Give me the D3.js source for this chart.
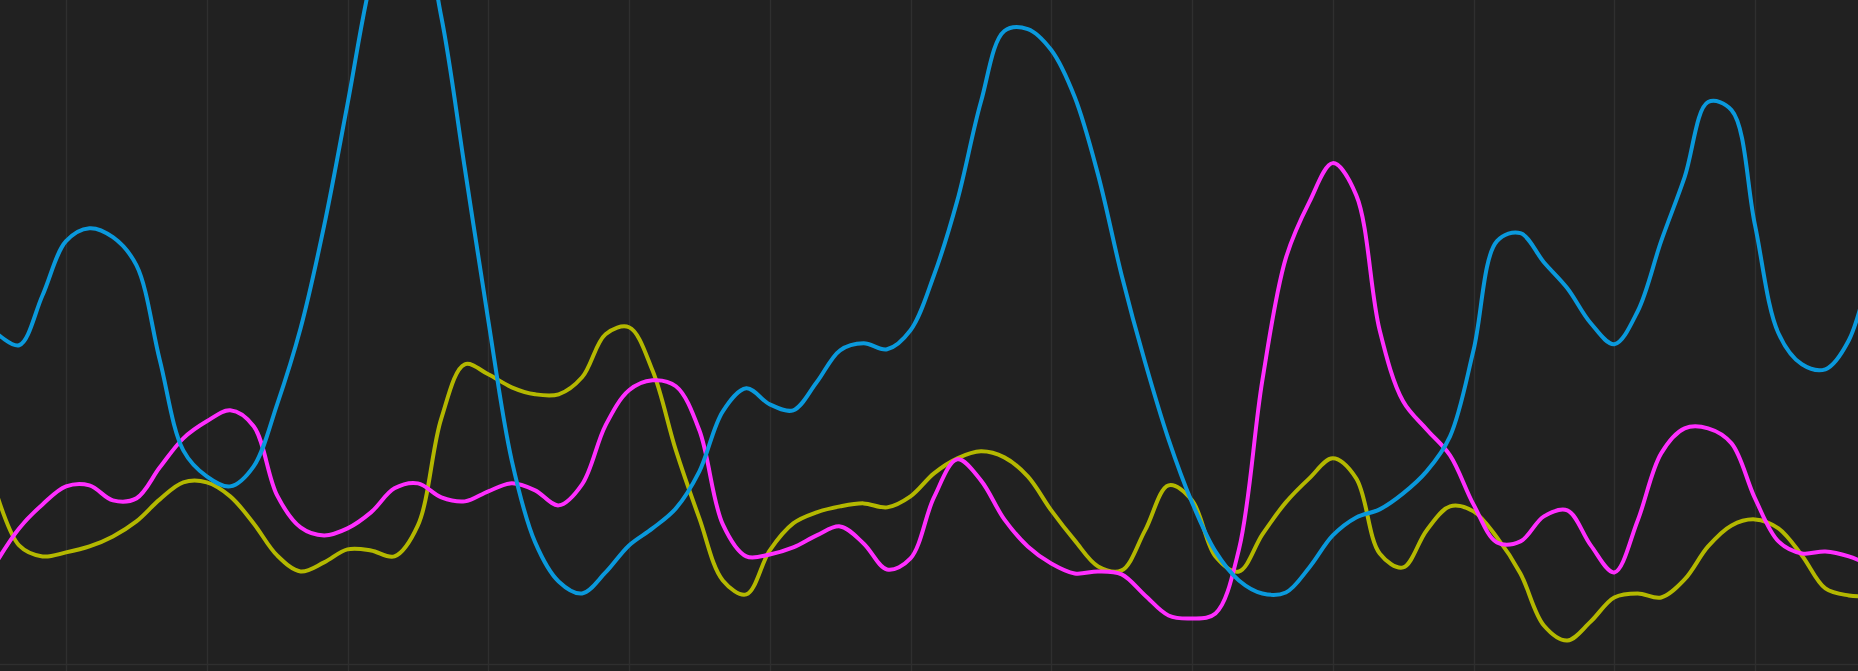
<!DOCTYPE html>
<html>
<head>
<meta charset="utf-8">
<script src="https://cdn.jsdelivr.net/npm/d3@7"></script>
<style>
  html, body { margin: 0; padding: 0; background: #212121; overflow: hidden; }
  svg { display: block; }
</style>
</head>
<body>
<svg id="chart" width="1858" height="671"></svg>
<script>
// sample index (evenly spaced)
const sampleIndex = d3.range(0, 81);
// vertical grid ticks (in sample index units)
const gridTicks = [3, 9, 15, 21, 27, 33, 39, 45, 51, 57, 63, 69, 75];
const hGridTicks = [0];

const blueValues = [
  33.2, 31.9, 36.9, 42.3, 43.6, 42.7, 39.9, 30.4, 21.4, 18.8,
  17.8, 19.8, 26.0, 33.6, 43.8, 56.0, 68.4, 76.1, 74.4, 64.7,
  49.6, 34.4, 20.4, 12.2, 8.3, 7.1, 9.2, 11.9, 13.6, 15.6,
  19.3, 25.3, 27.6, 26.0, 25.4, 28.2, 31.4, 32.1, 31.5, 33.4,
  38.9, 46.4, 56.2, 63.3, 63.5, 61.4, 56.7, 48.9, 38.9, 30.2,
  22.5, 16.2, 11.3, 8.4, 7.1, 7.2, 9.7, 12.9, 14.7, 15.5,
  17.1, 19.3, 22.8, 31.4, 42.3, 43.1, 40.2, 37.6, 34.1, 32.0,
  35.3, 42.3, 48.7, 56.2, 55.4, 43.9, 33.1, 30.0, 29.5, 32.4,
  40.4
];
const magentaValues = [
  10.1, 13.6, 16.0, 17.8, 17.9, 16.4, 16.6, 19.7, 22.6, 24.3,
  25.4, 23.8, 16.9, 13.7, 12.9, 13.6, 15.2, 17.6, 18.1, 16.7,
  16.3, 17.3, 18.1, 17.4, 15.9, 18.0, 23.9, 27.4, 28.4, 27.8,
  23.4, 14.0, 10.8, 11.0, 11.7, 12.9, 13.8, 12.1, 9.5, 10.6,
  16.7, 20.5, 18.4, 14.5, 11.8, 10.1, 9.1, 9.3, 9.0, 6.9,
  4.9, 4.6, 5.1, 11.5, 28.4, 40.6, 46.2, 50.1, 46.9, 33.4,
  26.3, 23.5, 20.9, 16.0, 12.2, 12.3, 14.8, 15.4, 11.9, 9.2,
  14.4, 21.1, 23.6, 23.6, 22.1, 16.6, 12.3, 11.1, 11.3, 10.8,
  9.8
];
const oliveValues = [
  17.4, 11.9, 10.8, 11.2, 11.8, 12.8, 14.3, 16.5, 18.2, 18.2,
  16.8, 14.1, 10.9, 9.3, 10.2, 11.5, 11.4, 10.8, 13.9, 24.6,
  30.0, 29.0, 27.7, 27.0, 27.0, 28.7, 33.0, 33.7, 29.4, 21.4,
  14.6, 8.4, 7.0, 11.4, 14.1, 15.2, 15.8, 16.1, 15.7, 16.8,
  19.1, 20.6, 21.3, 20.7, 18.8, 15.4, 12.4, 9.8, 9.4, 13.4,
  17.9, 16.4, 10.8, 9.3, 13.0, 16.2, 18.6, 20.6, 18.6, 11.1,
  9.7, 13.4, 15.8, 15.3, 12.7, 9.1, 3.9, 2.4, 4.3, 6.7,
  7.1, 6.7, 8.5, 11.8, 13.9, 14.5, 13.6, 10.9, 7.6, 6.9,
  6.8
];

const series = [
  { name: "olive", values: oliveValues, color: "#b4b800" },
  { name: "magenta", values: magentaValues, color: "#ff2eff" },
  { name: "blue", values: blueValues, color: "#0a99dc" }
];

const W = 1858, H = 671;
const svg = d3.select("#chart");

svg.append("rect").attr("width", W).attr("height", H).attr("fill", "#212121");

const x = d3.scaleLinear().domain([3, 75]).range([66, 1755]);
const y = d3.scaleLinear().domain([0, 66.4]).range([664.5, 0]);

// grid
const grid = svg.append("g");
grid.selectAll("line.v").data(gridTicks).join("line")
  .attr("class", "v")
  .attr("x1", d => Math.round(x(d)) + 0.5).attr("x2", d => Math.round(x(d)) + 0.5)
  .attr("y1", 0).attr("y2", H)
  .attr("stroke", "#2f2f2f").attr("stroke-width", 1.5);
grid.selectAll("line.h").data(hGridTicks).join("line")
  .attr("class", "h")
  .attr("x1", 0).attr("x2", W)
  .attr("y1", d => y(d)).attr("y2", d => y(d))
  .attr("stroke", "#2f2f2f").attr("stroke-width", 1.5);

const line = d3.line()
  .x((d, i) => x(sampleIndex[i]))
  .y(d => y(d))
  .curve(d3.curveCatmullRom.alpha(0.5));

svg.append("g").selectAll("path").data(series).join("path")
  .attr("d", d => line(d.values))
  .attr("fill", "none")
  .attr("stroke", d => d.color)
  .attr("stroke-width", 4)
  .attr("stroke-linejoin", "round")
  .attr("stroke-linecap", "round");
</script>
</body>
</html>
